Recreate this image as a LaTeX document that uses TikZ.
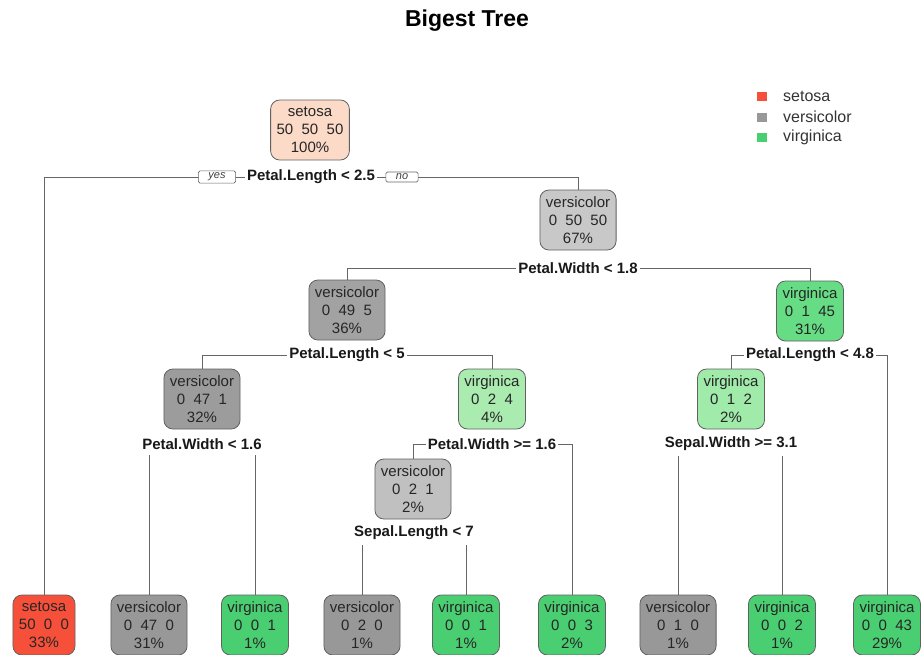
\documentclass[tikz,border=0pt]{standalone}
\usepackage{fontspec}
\setmainfont{Liberation Sans}
\usetikzlibrary{backgrounds}
\definecolor{setosaC}{RGB}{247,80,58}
\definecolor{rootC}{RGB}{252,218,200}
\definecolor{verA}{RGB}{200,200,200}
\definecolor{verB}{RGB}{162,162,162}
\definecolor{verC}{RGB}{156,156,156}
\definecolor{verD}{RGB}{192,192,192}
\definecolor{verLeaf}{RGB}{152,152,152}
\definecolor{virA}{RGB}{102,220,132}
\definecolor{virB}{RGB}{170,236,176}
\definecolor{virC}{RGB}{160,234,170}
\definecolor{virLeaf}{RGB}{74,206,114}
\newcommand{\dsp}{\hspace{0.556em}}
\begin{document}
\begin{tikzpicture}[x=1pt,y=-1pt,
  tnode/.style={draw=black!62, line width=0.8pt, rounded corners=9pt, align=center,
    font=\fontsize{15}{18}\selectfont, text=black!85, inner xsep=6pt, inner ysep=4pt,
    minimum height=60pt},
  leaf/.style={tnode},
  split/.style={fill=white, font=\bfseries\fontsize{15}{18}\selectfont, text=black!90,
    inner xsep=2pt, inner ysep=5pt},
  edge/.style={draw=black!60, line width=0.8pt},
  yn/.style={draw=black!60, fill=white, rounded corners=1.5pt, line width=0.6pt,
    font=\itshape\fontsize{11}{12}\selectfont, text=black!75, inner xsep=10pt, inner ysep=2pt},
  legsq/.style={minimum width=10pt, minimum height=9pt, inner sep=0pt},
  legtxt/.style={anchor=west, font=\fontsize{16}{18}\selectfont, text=black!80, inner sep=0pt}]
\useasboundingbox (0,0) rectangle (923,654);
\clip (0,0) rectangle (923,654);

% title
\node[font=\bfseries\fontsize{23}{26}\selectfont] (title) at (467,21) {Bigest Tree};

% legend
\node[legsq, fill=setosaC] (k1) at (762,96) {};
\node[legtxt] (t1) at (783,96) {setosa};
\node[legsq, fill=verLeaf] (k2) at (762,117) {};
\node[legtxt] (t2) at (783,117) {versicolor};
\node[legsq, fill=virLeaf] (k3) at (762,137) {};
\node[legtxt] (t3) at (783,137) {virginica};

% internal nodes
\node[tnode, fill=rootC] (n1) at (310,130) {setosa\\50\dsp 50\dsp 50\\100\%};
\node[split] (l1) at (311,177) {Petal.Length < 2.5};
\node[tnode, fill=verA] (n2) at (578,220) {versicolor\\0\dsp 50\dsp 50\\67\%};
\node[split] (l2) at (578,268) {Petal.Width < 1.8};
\node[tnode, fill=verB] (n3) at (347,310) {versicolor\\0\dsp 49\dsp 5\\36\%};
\node[split] (l3) at (347,355) {Petal.Length < 5};
\node[tnode, fill=virA] (n4) at (810,311) {virginica\\0\dsp 1\dsp 45\\31\%};
\node[split] (l4) at (810,355) {Petal.Length < 4.8};
\node[tnode, fill=verC] (n5) at (202,399) {versicolor\\0\dsp 47\dsp 1\\32\%};
\node[split] (l5) at (202,444) {Petal.Width < 1.6};
\node[tnode, fill=virB] (n6) at (492,399) {virginica\\0\dsp 2\dsp 4\\4\%};
\node[split] (l6) at (492,444) {Petal.Width >= 1.6};
\node[tnode, fill=virC] (n7) at (731,399) {virginica\\0\dsp 1\dsp 2\\2\%};
\node[split] (l7) at (731,444) {Sepal.Width >= 3.1};
\node[tnode, fill=verD] (n8) at (413,489) {versicolor\\0\dsp 2\dsp 1\\2\%};
\node[split] (l8) at (414,533) {Sepal.Length < 7};

% leaves
\node[leaf, fill=setosaC] (f1) at (44,625) {setosa\\50\dsp 0\dsp 0\\33\%};
\node[leaf, fill=verLeaf] (f2) at (149,625) {versicolor\\0\dsp 47\dsp 0\\31\%};
\node[leaf, fill=virLeaf] (f3) at (255,625) {virginica\\0\dsp 0\dsp 1\\1\%};
\node[leaf, fill=verLeaf] (f4) at (362,625) {versicolor\\0\dsp 2\dsp 0\\1\%};
\node[leaf, fill=virLeaf] (f5) at (466,625) {virginica\\0\dsp 0\dsp 1\\1\%};
\node[leaf, fill=virLeaf] (f6) at (572,625) {virginica\\0\dsp 0\dsp 3\\2\%};
\node[leaf, fill=verLeaf] (f7) at (678,625) {versicolor\\0\dsp 1\dsp 0\\1\%};
\node[leaf, fill=virLeaf] (f8) at (782,625) {virginica\\0\dsp 0\dsp 2\\1\%};
\node[leaf, fill=virLeaf] (f9) at (887,625) {virginica\\0\dsp 0\dsp 43\\29\%};

% yes / no tags
\node[yn] (yes) at (217,177) {yes};
\node[yn] (no) at (402,177) {no};

% connectors
\begin{scope}[on background layer]
\draw[edge] (l1.center) -| (f1.north);
\draw[edge] (l1.center) -| (n2.north);
\draw[edge] (l2.center) -| (n3.north);
\draw[edge] (l2.center) -| (n4.north);
\draw[edge] (l3.center) -| (n5.north);
\draw[edge] (l3.center) -| (n6.north);
\draw[edge] (l4.center) -| (n7.north);
\draw[edge] (l4.center) -| (f9.north);
\draw[edge] (l5.center) -| (f2.north);
\draw[edge] (l5.center) -| (f3.north);
\draw[edge] (l6.center) -| (n8.north);
\draw[edge] (l6.center) -| (f6.north);
\draw[edge] (l7.center) -| (f7.north);
\draw[edge] (l7.center) -| (f8.north);
\draw[edge] (l8.center) -| (f4.north);
\draw[edge] (l8.center) -| (f5.north);
\end{scope}
\end{tikzpicture}
\end{document}
